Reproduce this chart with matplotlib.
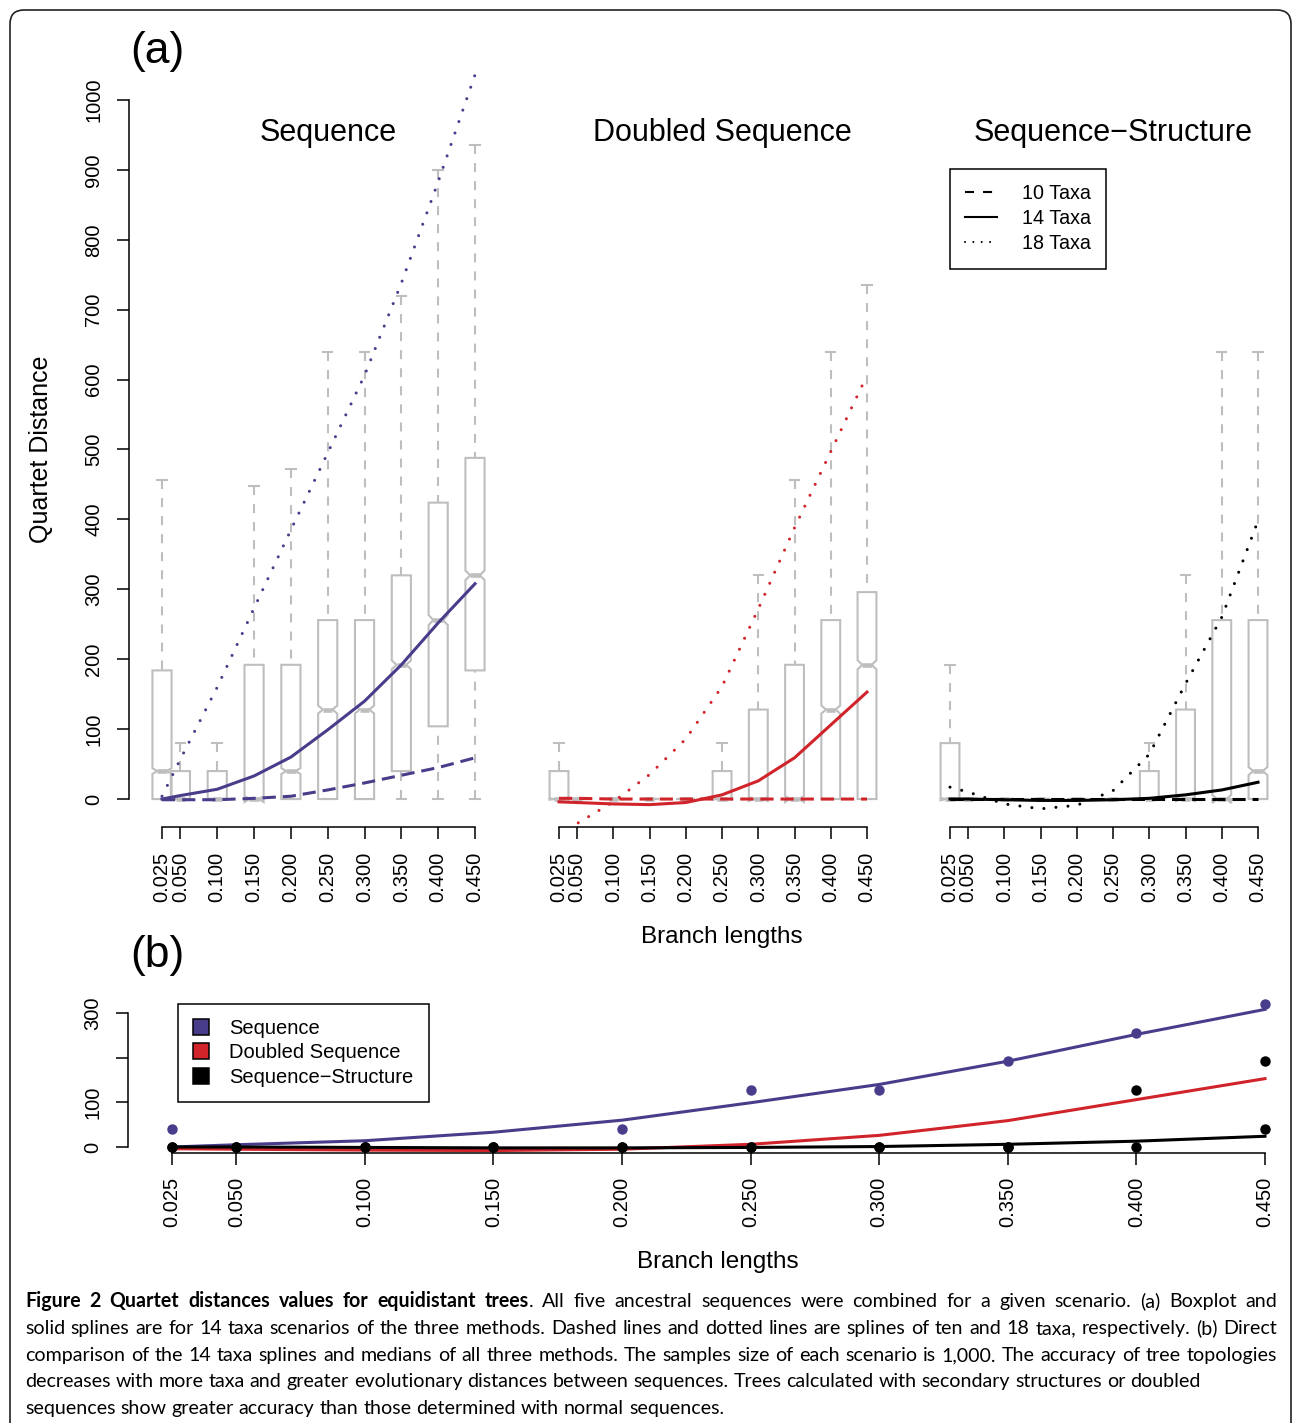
import matplotlib
matplotlib.use('Agg')
import matplotlib.pyplot as plt
from matplotlib.lines import Line2D
from matplotlib.patches import Polygon, FancyBboxPatch
from matplotlib.transforms import IdentityTransform

plt.rcParams['font.family'] = ['Liberation Sans', 'DejaVu Sans']
plt.rcParams['lines.scale_dashes'] = False

W, H = 1293, 1423

# ---- data ----
branch = [0.025, 0.05, 0.1, 0.15, 0.2, 0.25, 0.3, 0.35, 0.4, 0.45]
branch_labels = ['0.025', '0.050', '0.100', '0.150', '0.200',
                 '0.250', '0.300', '0.350', '0.400', '0.450']

# boxplot stats (14 taxa): lower whisker, Q1, median, Q3, upper whisker
seq_lo = [0, 0, 0, 0, 0, 0, 0, 0, 0, 0]
seq_q1 = [0, 0, 0, 0, 0, 0, 0, 40, 104, 184]
seq_med = [40, 0, 0, 0, 40, 128, 128, 192, 256, 320]
seq_q3 = [184, 40, 40, 192, 192, 256, 256, 320, 424, 488]
seq_hi = [456, 80, 80, 448, 472, 640, 640, 720, 900, 936]

dbl_lo = [0, 0, 0, 0, 0, 0, 0, 0, 0, 0]
dbl_q1 = [0, 0, 0, 0, 0, 0, 0, 0, 0, 0]
dbl_med = [0, 0, 0, 0, 0, 0, 0, 0, 128, 192]
dbl_q3 = [40, 0, 0, 0, 0, 40, 128, 192, 256, 296]
dbl_hi = [80, 0, 0, 0, 0, 80, 320, 456, 640, 736]

str_lo = [0, 0, 0, 0, 0, 0, 0, 0, 0, 0]
str_q1 = [0, 0, 0, 0, 0, 0, 0, 0, 0, 0]
str_med = [0, 0, 0, 0, 0, 0, 0, 0, 0, 40]
str_q3 = [80, 0, 0, 0, 0, 0, 40, 128, 256, 256]
str_hi = [192, 0, 0, 0, 0, 0, 80, 320, 640, 640]

# spline values at each branch length
seq_10 = [-1, -1, -1, 1, 4, 13, 23, 34, 45, 59]
seq_14 = [0, 5, 14, 33, 60, 99, 140, 192, 252, 308]
seq_18 = [4, 57, 160, 273, 385, 495, 606, 738, 883, 1036]

dbl_10 = [1, 1, 0, 0, 0, 0, 0, 0, 0, 0]
dbl_14 = [-4, -5, -7, -8, -5, 6, 26, 59, 106, 153]
dbl_18 = [-55, -35, -4, 35, 86, 161, 272, 388, 497, 606]

str_10 = [0, 0, 0, 0, 0, 0, 0, 0, 0, 0]
str_14 = [0, 0, -1, -2, -2, -1, 1, 6, 13, 24]
str_18 = [17, 10, -7, -14, -9, 12, 64, 165, 260, 398]

titles = ['Sequence', 'Doubled Sequence', 'Sequence\u2212Structure']
PURPLE = '#483D8B'
RED = '#D0232A'
GRAY = '#BEBEBE'

fig = plt.figure(figsize=(W / 100, H / 100), dpi=100)


def px_axes(left, top, right, bottom):
    return fig.add_axes([left / W, 1 - bottom / H, (right - left) / W, (bottom - top) / H])


def notched_box(ax, x, lo, q1, med, q3, hi, hw=0.013, n=5000):
    nh = 1.58 * (q3 - q1) / n ** 0.5
    nf = 0.5
    xs = [x - hw, x - hw, x - nf * hw, x - hw, x - hw, x + hw, x + hw, x + nf * hw, x + hw, x + hw]
    ys = [q1, med - nh, med, med + nh, q3, q3, med + nh, med, med - nh, q1]
    ax.add_patch(Polygon(list(zip(xs, ys)), closed=True, fill=False, edgecolor=GRAY, lw=1.5))
    ax.plot([x - nf * hw, x + nf * hw], [med, med], color=GRAY, lw=3.3, solid_capstyle='butt')
    ax.plot([x, x], [hi, q3], color=GRAY, lw=1.5, dashes=(6.5, 6.5))
    ax.plot([x, x], [lo, q1], color=GRAY, lw=1.5, dashes=(6.5, 6.5))
    ax.plot([x - hw / 2, x + hw / 2], [hi, hi], color=GRAY, lw=1.5)
    ax.plot([x - hw / 2, x + hw / 2], [lo, lo], color=GRAY, lw=1.5)


# ---- (a) boxplots ----
XLIM_A = (-0.02, 0.49)
YLIM_A = (-40, 1050)
panel_px = [(162, 475), (559, 867), (950, 1258)]
title_x = [328, 722, 1113]
stats = [(seq_lo, seq_q1, seq_med, seq_q3, seq_hi),
         (dbl_lo, dbl_q1, dbl_med, dbl_q3, dbl_hi),
         (str_lo, str_q1, str_med, str_q3, str_hi)]
splines = [(seq_10, seq_14, seq_18), (dbl_10, dbl_14, dbl_18), (str_10, str_14, str_18)]
colors = [PURPLE, RED, 'black']

axes_a = []
for i, (x0, x1) in enumerate(panel_px):
    s = (x1 - x0) / 0.425
    ax = px_axes(x0 + (XLIM_A[0] - 0.025) * s, 65, x0 + (XLIM_A[1] - 0.025) * s, 827)
    ax.set_xlim(XLIM_A)
    ax.set_ylim(YLIM_A)
    ax.patch.set_visible(False)
    lo, q1, med, q3, hi = stats[i]
    for k, b in enumerate(branch):
        notched_box(ax, b, lo[k], q1[k], med[k], q3[k], hi[k])
    s10, s14, s18 = splines[i]
    ax.plot(branch, s10, color=colors[i], lw=2.2, dashes=(9.5, 5))
    ax.plot(branch, s14, color=colors[i], lw=2.2)
    ax.plot(branch, s18, color=colors[i], lw=2.2, dashes=(0.01, 8.7), dash_capstyle='round')
    for sp in ['top', 'right']:
        ax.spines[sp].set_visible(False)
    ax.spines['bottom'].set_bounds(0.025, 0.45)
    ax.spines['bottom'].set_linewidth(1.1)
    ax.set_xticks(branch)
    ax.set_xticklabels(branch_labels, rotation=90, fontsize=14.5)
    ax.tick_params(axis='x', length=8.6, width=1.1, pad=9)
    if i == 0:
        ax.spines['left'].set_bounds(0, 1000)
        ax.spines['left'].set_linewidth(1.1)
        ax.set_yticks(range(0, 1001, 100))
        ax.set_yticklabels([str(v) for v in range(0, 1001, 100)], fontsize=14.5,
                           rotation=90, va='center')
        ax.tick_params(axis='y', length=8.6, width=1.1, pad=10)
    else:
        ax.spines['left'].set_visible(False)
        ax.set_yticks([])
    axes_a.append(ax)

handles = [Line2D([], [], color='black', lw=1.5, dashes=(6.5, 6.5)),
           Line2D([], [], color='black', lw=1.5),
           Line2D([], [], color='black', lw=1.5, dashes=(0.01, 6), dash_capstyle='round')]
leg = axes_a[2].legend(handles, ['10 Taxa', '14 Taxa', '18 Taxa'], loc='upper left',
                       bbox_to_anchor=(950 / W, 1 - 169 / H), bbox_transform=fig.transFigure,
                       fontsize=14.2, frameon=True, fancybox=False, framealpha=1,
                       edgecolor='black', borderpad=0.78, labelspacing=0.3,
                       handlelength=1.6, handletextpad=1.25, borderaxespad=0)
leg.get_frame().set_linewidth(1.1)

for tx, t in zip(title_x, titles):
    fig.text(tx / W, 1 - 133 / H, t, fontsize=22, ha='center', va='center')
fig.text(130 / W, 1 - 52 / H, '(a)', fontsize=32, ha='left', va='center')
fig.text(41 / W, 1 - 449 / H, 'Quartet Distance', fontsize=18, rotation=90,
         ha='center', va='center')
fig.text(722 / W, 1 - 937 / H, 'Branch lengths', fontsize=17.5, ha='center', va='center')

# ---- (b) splines and medians ----
axb = px_axes(128.3, 998.3, 1308.7, 1152.7)
axb.set_xlim(0.008, 0.467)
axb.set_ylim(-12.8, 332.8)
axb.patch.set_visible(False)
axb.plot(branch, seq_14, color=PURPLE, lw=2.2)
axb.plot(branch, dbl_14, color=RED, lw=2.2)
axb.plot(branch, str_14, color='black', lw=2.2)
axb.plot(branch, seq_med, 'o', color=PURPLE, ms=6.5, clip_on=False)
axb.plot(branch, dbl_med, 'o', color='black', ms=6.5, clip_on=False)
axb.plot(branch, str_med, 'o', color='black', ms=6.5, clip_on=False)
for sp in ['top', 'right']:
    axb.spines[sp].set_visible(False)
axb.spines['bottom'].set_bounds(0.025, 0.45)
axb.spines['left'].set_bounds(0, 300)
for sp in ['bottom', 'left']:
    axb.spines[sp].set_linewidth(1.1)
axb.set_xticks(branch)
axb.set_xticklabels(branch_labels, rotation=90, fontsize=14.5)
axb.set_yticks([0, 100, 200, 300])
axb.set_yticklabels(['0', '100', '', '300'], fontsize=14.5, rotation=90, va='center')
axb.tick_params(axis='both', length=8.6, width=1.1)
axb.tick_params(axis='x', pad=9)
axb.tick_params(axis='y', pad=10)

sq = dict(marker='s', ls='none', ms=11, markeredgecolor='black', markeredgewidth=1.1)
hb = [Line2D([], [], color=PURPLE, **sq), Line2D([], [], color=RED, **sq),
      Line2D([], [], color='black', **sq)]
legb = axb.legend(hb, titles, loc='upper left', bbox_to_anchor=(178 / W, 1 - 1004 / H),
                  bbox_transform=fig.transFigure, fontsize=14.5, frameon=True,
                  fancybox=False, framealpha=1, edgecolor='black', borderpad=0.75,
                  labelspacing=0.26, handlelength=0.8, handletextpad=1.0, borderaxespad=0)
legb.get_frame().set_linewidth(1.1)

fig.text(130 / W, 1 - 955 / H, '(b)', fontsize=32, ha='left', va='center')
fig.text(718 / W, 1 - 1262 / H, 'Branch lengths', fontsize=17.5, ha='center', va='center')

# ---- caption ----
CAP = ['Lato', 'DejaVu Sans']
renderer = fig.canvas.get_renderer()


def text_width(s, weight, size):
    t = fig.text(0, 0, s, fontsize=size, fontweight=weight, family=CAP)
    w = t.get_window_extent(renderer).width
    t.remove()
    return w


line1 = ([[(w, 'bold')] for w in 'Figure 2 Quartet distances values for equidistant'.split()]
         + [[('trees', 'bold'), ('.', 'normal')]]
         + [[(w, 'normal')] for w in ('All five ancestral sequences were combined for a given '
                                      'scenario. (a) Boxplot and').split()])
rest = ['solid splines are for 14 taxa scenarios of the three methods. Dashed lines and dotted '
        'lines are splines of ten and 18 taxa, respectively. (b) Direct',
        'comparison of the 14 taxa splines and medians of all three methods. The samples size '
        'of each scenario is 1,000. The accuracy of tree topologies',
        'decreases with more taxa and greater evolutionary distances between sequences. Trees '
        'calculated with secondary structures or doubled',
        'sequences show greater accuracy than those determined with normal sequences.']
cap_lines = [line1] + [[[(w, 'normal')] for w in r.split()] for r in rest]
justified = [True, True, True, False, False]
cap_y = [1301, 1328, 1355, 1381, 1408]

size = 10 * 1180 / text_width(rest[2], 'normal', 10)
space = text_width('a a', 'normal', size) - text_width('aa', 'normal', size)
x_left, x_right = 25, 1277
for words, just, yc in zip(cap_lines, justified, cap_y):
    widths = [[text_width(t, wt, size) for t, wt in word] for word in words]
    total = sum(sum(w) for w in widths)
    gap = (x_right - x_left - total) / (len(words) - 1) if just else space
    x = x_left
    for word, ws in zip(words, widths):
        for (t, wt), w in zip(word, ws):
            fig.text(x / W, 1 - (yc + 6) / H, t, fontsize=size, fontweight=wt, family=CAP,
                     ha='left', va='baseline')
            x += w
        x += gap

# ---- page border ----
fig.add_artist(FancyBboxPatch((10, -40), 1281, 1453, boxstyle='round,pad=0,rounding_size=14',
                              transform=IdentityTransform(), fill=False,
                              edgecolor='#222222', lw=1.2))

fig.savefig('out.png', dpi=100)
